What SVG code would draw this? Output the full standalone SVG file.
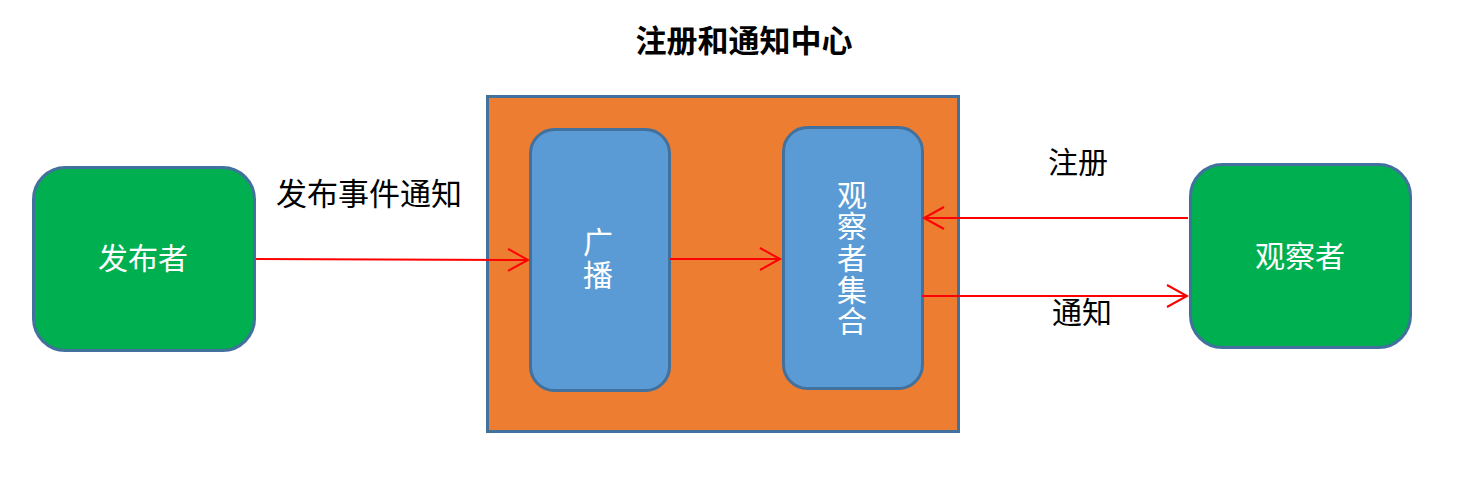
<svg xmlns="http://www.w3.org/2000/svg" width="1465" height="481" viewBox="0 0 1465 481">
<defs>
<marker id="arr" markerUnits="userSpaceOnUse" markerWidth="26" markerHeight="28" refX="22" refY="12" orient="auto" viewBox="0 0 26 24">
<path d="M2,1 L22,12 L2,23" fill="none" stroke="#FF0000" stroke-width="2"/>
</marker>
<style>
.t{font-family:"Liberation Serif","Noto Sans CJK SC",serif;}
.lbl{font-size:30px;fill:#000000;}
.wt{font-size:30px;fill:#FFFFFF;text-anchor:middle;}
.green{fill:#00B050;stroke:#41719C;stroke-width:3;}
.blue{fill:#5B9BD5;stroke:#41719C;stroke-width:3;}
.conn{stroke:#FF0000;stroke-width:2;fill:none;marker-end:url(#arr);}
</style>
</defs>
<rect width="1465" height="481" fill="#FFFFFF"/>
<text class="t" x="744" y="52" font-size="31" font-weight="bold" text-anchor="middle">注册和通知中心</text>
<g id="center">
<rect x="487.5" y="96.5" width="471" height="335" fill="#ED7D31" stroke="#41719C" stroke-width="3"/>
</g>
<g id="broadcast">
<rect class="blue" x="530.5" y="129.5" width="139" height="261" rx="24"/>
<text class="t wt" x="598" y="253" font-size="28">广</text>
<text class="t wt" x="598" y="286" font-size="28">播</text>
</g>
<g id="observerSet">
<rect class="blue" x="783.5" y="127.5" width="139" height="261" rx="24"/>
<text class="t wt" x="852" y="206" font-size="28">观</text>
<text class="t wt" x="852" y="237" font-size="28">察</text>
<text class="t wt" x="852" y="269" font-size="28">者</text>
<text class="t wt" x="852" y="301" font-size="28">集</text>
<text class="t wt" x="852" y="332" font-size="28">合</text>
</g>
<g id="publisher">
<rect class="green" x="33.5" y="167.5" width="221" height="183" rx="32"/>
<text class="t wt" x="143" y="269">发布者</text>
</g>
<g id="observer">
<rect class="green" x="1190.5" y="164.5" width="220" height="183" rx="32"/>
<text class="t wt" x="1300" y="267">观察者</text>
</g>
<g id="labels">
<text class="t lbl" x="276" y="205" font-size="31" style="font-size:31px">发布事件通知</text>
<text class="t lbl" x="1048" y="173">注册</text>
<text class="t lbl" x="1052" y="323">通知</text>
</g>
<g id="connectors">
<line class="conn" x1="256" y1="259" x2="528" y2="260"/>
<line class="conn" x1="670" y1="259" x2="780" y2="259"/>
<line class="conn" x1="1188" y1="218" x2="924" y2="218"/>
<line class="conn" x1="922" y1="296" x2="1187" y2="296"/>
</g>
</svg>
